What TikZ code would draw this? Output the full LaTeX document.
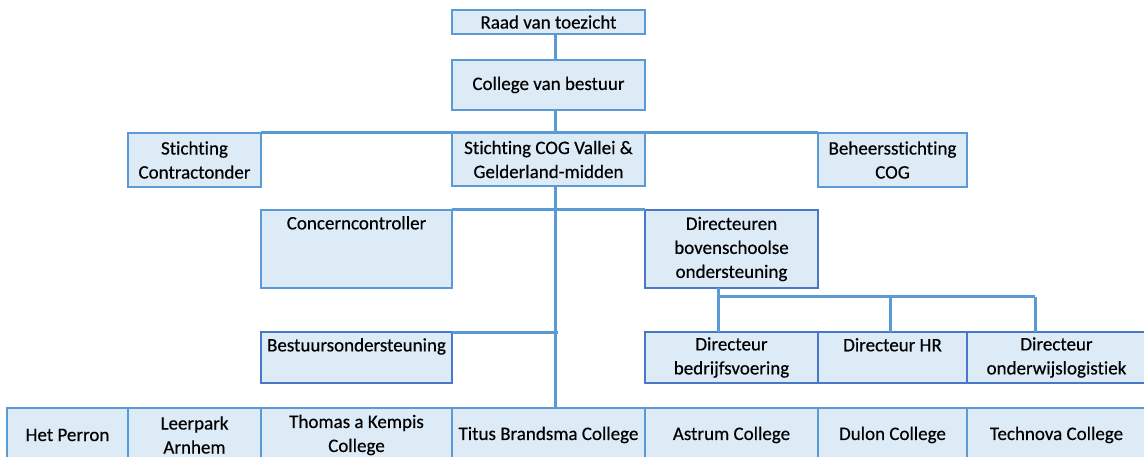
\documentclass[tikz,border=0pt]{standalone}
\usepackage{fontspec}
\setmainfont[Ligatures=NoCommon, FakeBold=0.4]{Carlito}
\usetikzlibrary{calc}
\definecolor{lineblue}{HTML}{5B9BD5}
\definecolor{darkblue}{HTML}{4A78C8}
\definecolor{boxfill}{HTML}{DDEBF7}
\tikzset{
  box/.style={draw=lineblue, fill=boxfill, line width=2pt, inner sep=0pt, outer sep=0pt,
    anchor=north west, align=center, text=black,
    font=\fontsize{19}{24}\selectfont},
  dbox/.style={box, draw=darkblue},
  conn/.style={draw=lineblue, line width=3pt},
  toplab/.style={label={[anchor=north, inner sep=0pt, yshift=-6pt, font=\fontsize{19}{24}\selectfont, text=black]north:#1}}
}
\begin{document}
\begin{tikzpicture}[x=1pt, y=-1pt]
\useasboundingbox (0,0) rectangle (1144,457);
\clip (0,0) rectangle (1144,457);
\coordinate (trunk) at (555,0);
\coordinate (c1) at (718,297);
\coordinate (c2) at (890,297);
\coordinate (c3) at (1035,297);

\node[box, minimum width=193pt, minimum height=24pt] (raad) at (452,10) {Raad van toezicht};
\node[box, minimum width=193pt, minimum height=50pt] (college) at (452,60) {College van bestuur};
\node[box, minimum width=193pt, minimum height=53pt] (cog) at (452,133) {Stichting COG Vallei \&\\Gelderland-midden};
\node[box, minimum width=133pt, minimum height=54pt] (contract) at (128,133) {Stichting\\Contractonder};
\node[box, minimum width=149pt, minimum height=54pt] (beheer) at (818,133) {Beheersstichting\\COG};
\node[box, minimum width=191pt, minimum height=78pt, toplab=Concerncontroller] (concern) at (261,210) {};
\node[dbox, minimum width=173pt, minimum height=78pt] (dirb) at (645,210) {Directeuren\\bovenschoolse\\ondersteuning};
\node[dbox, minimum width=191pt, minimum height=51pt, toplab=Bestuursondersteuning] (bestuur) at (261,332) {};
\node[dbox, minimum width=173pt, minimum height=51pt] (bedr) at (645,332) {Directeur\\bedrijfsvoering};
\node[dbox, minimum width=149pt, minimum height=51pt, toplab=Directeur HR] (hr) at (818,332) {};
\node[dbox, minimum width=179pt, minimum height=51pt] (onderw) at (967,332) {Directeur\\onderwijslogistiek};

\node[box, minimum width=121pt, minimum height=54pt] (perron) at (7,408) {Het Perron};
\node[box, minimum width=133pt, minimum height=54pt] (leerpark) at (128,408) {Leerpark\\Arnhem};
\node[box, minimum width=191pt, minimum height=54pt] (kempis) at (261,408) {Thomas a Kempis\\College};
\node[box, minimum width=193pt, minimum height=54pt] (titus) at (452,408) {Titus Brandsma College};
\node[box, minimum width=173pt, minimum height=54pt] (astrum) at (645,408) {Astrum College};
\node[box, minimum width=149pt, minimum height=54pt] (dulon) at (818,408) {Dulon College};
\node[box, minimum width=179pt, minimum height=54pt] (technova) at (967,408) {Technova College};

\draw[conn] (raad.south -| trunk) -- (college.north -| trunk);
\draw[conn] (college.south -| trunk) -- (cog.north -| trunk);
\draw[conn] (contract.north east) -- (beheer.north west);
\draw[conn] (cog.south -| trunk) -- (titus.north -| trunk);
\draw[conn] (concern.north east) -- (dirb.north west);
\draw[conn] (bestuur.north east) -- ($(bestuur.north east -| trunk)+(3,0)$);
\draw[conn] (dirb.south -| c1) -- (bedr.north -| c1);
\draw[conn] (c1) -- (c3);
\draw[conn] (c2) -- (hr.north -| c2);
\draw[conn] (c3) -- (onderw.north -| c3);
\end{tikzpicture}
\end{document}
